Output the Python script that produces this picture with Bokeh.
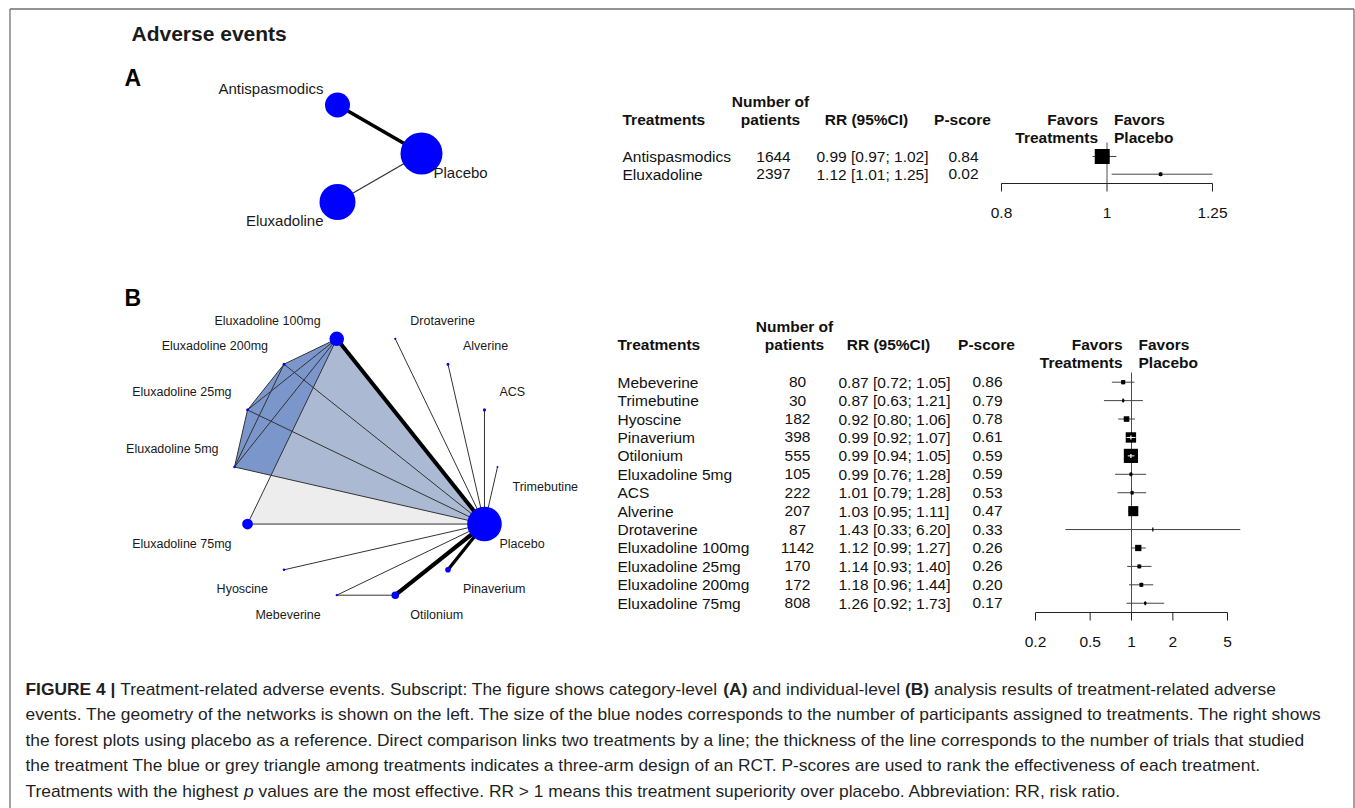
import math
from bokeh.plotting import figure
from bokeh.models import Range1d, LogScale
from bokeh.core.properties import value
from bokeh.embed import file_html
from bokeh.resources import INLINE

# ---------------------------------------------------------------- DATA
title_text = "Adverse events"
panel_labels = ["A", "B"]

# Panel A : category level
treatments_A = ["Antispasmodics", "Eluxadoline"]
patients_A = [1644, 2397]
rr_A = [0.99, 1.12]
lower_A = [0.97, 1.01]
upper_A = [1.02, 1.25]
pscore_A = [0.84, 0.02]
ticks_A = [0.8, 1, 1.25]
tick_labels_A = ["0.8", "1", "1.25"]
network_nodes_A = ["Placebo", "Eluxadoline", "Antispasmodics"]
network_edges_A = [("Antispasmodics", "Placebo"), ("Eluxadoline", "Placebo")]

# Panel B : individual level
treatments_B = ["Mebeverine", "Trimebutine", "Hyoscine", "Pinaverium", "Otilonium",
                "Eluxadoline 5mg", "ACS", "Alverine", "Drotaverine", "Eluxadoline 100mg",
                "Eluxadoline 25mg", "Eluxadoline 200mg", "Eluxadoline 75mg"]
patients_B = [80, 30, 182, 398, 555, 105, 222, 207, 87, 1142, 170, 172, 808]
rr_B = [0.87, 0.87, 0.92, 0.99, 0.99, 0.99, 1.01, 1.03, 1.43, 1.12, 1.14, 1.18, 1.26]
lower_B = [0.72, 0.63, 0.80, 0.92, 0.94, 0.76, 0.79, 0.95, 0.33, 0.99, 0.93, 0.96, 0.92]
upper_B = [1.05, 1.21, 1.06, 1.07, 1.05, 1.28, 1.28, 1.11, 6.20, 1.27, 1.40, 1.44, 1.73]
pscore_B = [0.86, 0.79, 0.78, 0.61, 0.59, 0.59, 0.53, 0.47, 0.33, 0.26, 0.26, 0.20, 0.17]
ticks_B = [0.2, 0.5, 1, 2, 5]
tick_labels_B = ["0.2", "0.5", "1", "2", "5"]
network_nodes_B = ["Eluxadoline 5mg", "Eluxadoline 25mg", "Eluxadoline 200mg", "Eluxadoline 100mg",
                   "Drotaverine", "Alverine", "ACS", "Trimebutine", "Placebo", "Pinaverium",
                   "Otilonium", "Mebeverine", "Hyoscine", "Eluxadoline 75mg"]
network_edges_B = [
    ("Eluxadoline 5mg", "Eluxadoline 25mg"), ("Eluxadoline 5mg", "Eluxadoline 200mg"),
    ("Eluxadoline 5mg", "Eluxadoline 100mg"), ("Eluxadoline 5mg", "Placebo"),
    ("Eluxadoline 25mg", "Eluxadoline 200mg"), ("Eluxadoline 25mg", "Eluxadoline 100mg"),
    ("Eluxadoline 25mg", "Placebo"), ("Eluxadoline 200mg", "Eluxadoline 100mg"),
    ("Eluxadoline 200mg", "Placebo"), ("Eluxadoline 100mg", "Placebo"),
    ("Eluxadoline 75mg", "Eluxadoline 100mg"), ("Eluxadoline 75mg", "Placebo"),
    ("Drotaverine", "Placebo"), ("Alverine", "Placebo"), ("ACS", "Placebo"),
    ("Trimebutine", "Placebo"), ("Pinaverium", "Placebo"), ("Otilonium", "Placebo"),
    ("Mebeverine", "Otilonium"), ("Mebeverine", "Placebo"), ("Hyoscine", "Placebo"),
]
multiarm_blue_B = ["Eluxadoline 5mg", "Eluxadoline 25mg", "Eluxadoline 200mg",
                   "Eluxadoline 100mg", "Placebo"]
multiarm_grey_B = ["Eluxadoline 75mg", "Eluxadoline 100mg", "Placebo"]

caption_lines = [
    [("FIGURE 4 |", "bold"),
     (" Treatment-related adverse events. Subscript: The figure shows category-level ", "normal"),
     ("(A)", "bold"), (" and individual-level ", "normal"), ("(B)", "bold"),
     (" analysis results of treatment-related adverse", "normal")],
    [("events. The geometry of the networks is shown on the left. The size of the blue nodes "
      "corresponds to the number of participants assigned to treatments. The right shows", "normal")],
    [("the forest plots using placebo as a reference. Direct comparison links two treatments by a "
      "line; the thickness of the line corresponds to the number of trials that studied", "normal")],
    [("the treatment The blue or grey triangle among treatments indicates a three-arm design of an "
      "RCT. P-scores are used to rank the effectiveness of each treatment.", "normal")],
    [("Treatments with the highest ", "normal"), ("p", "italic"),
     (" values are the most effective. RR > 1 means this treatment superiority over placebo. "
      "Abbreviation: RR, risk ratio.", "normal")],
]

# ---------------------------------------------------------------- STYLE
FONT = "Liberation Sans"
TXT = "#111111"
NODE_R_A = [21, 18, 12.5]
EDGE_W_A = [3.6, 1.3]
NODE_R_B = [1.3, 1.4, 1.5, 7.3, 1.1, 1.5, 1.6, 0.9, 17.3, 2.8, 3.8, 1.1, 1.3, 5.4]
EDGE_W_B = [1, 1, 1, 1, 1, 1, 1, 1, 1, 4, 1, 1, 1, 1, 1, 1, 3.3, 4.2, 1, 1, 1]

W, H = 1355, 808
X0, Y0 = 0, 0
BORDER_L, BORDER_T, BORDER_R = 9.5, 8.5, 1353.5

p = figure(width=W, height=H, x_range=Range1d(X0, X0 + W), y_range=Range1d(Y0 + H, Y0),
           output_backend="svg", toolbar_location=None, x_axis_location=None,
           y_axis_location=None, min_border=0, outline_line_color=None,
           background_fill_color="white", border_fill_color="white")
p.grid.visible = False


def draw_text(xs, ys, texts, size, align="left", style="normal", color=TXT,
              rng="default", font=FONT, baseline="middle"):
    p.text(x=list(xs), y=list(ys), text=list(texts), text_font=value(font),
           text_font_size=f"{size}px", text_font_style=style, text_align=align,
           text_baseline=baseline, text_color=color, x_range_name=rng)


# frame border (left, top, right)
p.segment(x0=[BORDER_L, BORDER_L, BORDER_R], y0=[Y0 + H, BORDER_T, BORDER_T],
          x1=[BORDER_L, BORDER_R, BORDER_R], y1=[BORDER_T, BORDER_T, Y0 + H],
          line_color="#707070", line_width=1.3)

# titles
draw_text([131], [33], [title_text], 21, style="bold", color="#1a1a1a")
draw_text([124, 124], [77, 297], panel_labels, 23, style="bold", color="#000000",
          font="Liberation Sans")


# ---------------------------------------------------------------- networks
def circle_layout(n, cx, cy, r, start_deg):
    angs = [math.radians(start_deg + 360.0 * k / n) for k in range(n)]
    return ([cx + r * math.cos(a) for a in angs], [cy + r * math.sin(a) for a in angs], angs)


def network(nodes, edges, edge_w, node_r, cx, cy, r, start, font_size, dxr, dxl, dyu, dyd,
            polys=()):
    xs, ys, angs = circle_layout(len(nodes), cx, cy, r, start)
    pos = {nm: (x, y) for nm, x, y in zip(nodes, xs, ys)}
    for members, color, alpha in polys:
        p.patch([pos[m][0] for m in members], [pos[m][1] for m in members],
                fill_color=color, fill_alpha=alpha, line_color=None)
    p.segment(x0=[pos[a][0] for a, b in edges], y0=[pos[a][1] for a, b in edges],
              x1=[pos[b][0] for a, b in edges], y1=[pos[b][1] for a, b in edges],
              line_width=edge_w, line_color=["#000000" if w > 2 else "#333333" for w in edge_w])
    p.scatter(x=xs, y=ys, size=[2 * rr for rr in node_r], marker="circle",
              fill_color="#0000ff", line_color=None)
    for nm, x, y, a in zip(nodes, xs, ys, angs):
        c, s = math.cos(a), math.sin(a)
        right = c > 1e-6
        above = s < -1e-6 or (abs(s) <= 1e-6 and c < 0)
        lx = x + dxr if right else x - dxl
        ly = y - dyu if above else y + dyd
        draw_text([lx], [ly], [nm], font_size, align="left" if right else "right",
                  color="#1a1a1a")


network(network_nodes_A, network_edges_A, EDGE_W_A, NODE_R_A, 365, 153, 56, 0, 15,
        12, 14, 17, 19)
network(network_nodes_B, network_edges_B, EDGE_W_B, NODE_R_B, 365.5, 466.5, 131.5, 180, 12.5,
        15, 16, 18, 19.5,
        polys=[(multiarm_blue_B, "#7a96cb", 1.0), (multiarm_grey_B, "#dcdcdc", 0.5)])


# ---------------------------------------------------------------- forest plots
def log_axis_range(v0, px0, v1, px1):
    ppu = (px1 - px0) / (math.log(v1) - math.log(v0))
    start = math.exp(math.log(v0) + (X0 - px0) / ppu)
    end = math.exp(math.log(v0) + (X0 + W - px0) / ppu)
    return Range1d(start, end), ppu, px0 - ppu * math.log(v0)


rngA, ppuA, px1A = log_axis_range(ticks_A[0], 1001, ticks_A[-1], 1212)
rngB, ppuB, px1B = log_axis_range(ticks_B[0], 1035, ticks_B[-1], 1227)
p.extra_x_ranges = {"fa": rngA, "fb": rngB}
p.extra_x_scales = {"fa": LogScale(), "fb": LogScale()}


def forest(name, est, lo, hi, ys, ppu, box_k, ref_top, axis_y, ticks, labels):
    n = len(est)
    se = [(math.log(h) - math.log(l)) / (2 * 1.959964) for l, h in zip(lo, hi)]
    box = [box_k / s for s in se]
    ci_px = [(math.log(h) - math.log(l)) * ppu for l, h in zip(lo, hi)]
    inside = [c < 0.9 * b for c, b in zip(ci_px, box)]
    p.segment(x0=[1], y0=[ref_top], x1=[1], y1=[axis_y], x_range_name=name,
              line_color="#4d4d4d", line_width=1)
    p.segment(x0=lo, y0=ys, x1=hi, y1=ys, x_range_name=name, line_color="#444444",
              line_width=1)
    p.scatter(x=est, y=ys, size=box, marker="square", x_range_name=name,
              fill_color="#000000", line_color=None)
    p.segment(x0=est, y0=[y - 2 for y in ys], x1=est, y1=[y + 2 for y in ys],
              x_range_name=name, line_width=1.2,
              line_color=["#ffffff" if i else "#000000" for i in inside])
    idx = [i for i in range(n) if inside[i]]
    if idx:
        p.segment(x0=[lo[i] for i in idx], y0=[ys[i] for i in idx],
                  x1=[hi[i] for i in idx], y1=[ys[i] for i in idx],
                  x_range_name=name, line_color="#ffffff", line_width=1)
    p.segment(x0=[ticks[0]], y0=[axis_y], x1=[ticks[-1]], y1=[axis_y], x_range_name=name,
              line_color="#222222", line_width=1)
    p.segment(x0=ticks, y0=[axis_y] * len(ticks), x1=ticks, y1=[axis_y + 8] * len(ticks),
              x_range_name=name, line_color="#222222", line_width=1)
    draw_text(ticks, [axis_y + 29] * len(ticks), labels, 15.5, align="center", rng=name)


def table(names, npat, est, lo, hi, ps, y_head, y0, dy, x_name, x_n, x_rr, x_p, ref_px):
    ys = [y0 + i * dy for i in range(len(names))]
    fs = 15.5
    # headers
    draw_text([x_name], [y_head], ["Treatments"], fs, style="bold")
    draw_text([x_n - 3, x_n - 3], [y_head - 18, y_head], ["Number of", "patients"], fs,
              align="center", style="bold")
    draw_text([x_rr + 50], [y_head], ["RR (95%CI)"], fs, align="center", style="bold")
    draw_text([x_p - 1], [y_head], ["P-score"], fs, align="center", style="bold")
    draw_text([ref_px - 9, ref_px - 9], [y_head, y_head + 18], ["Favors", "Treatments"], fs,
              align="right", style="bold")
    draw_text([ref_px + 7, ref_px + 7], [y_head, y_head + 18], ["Favors", "Placebo"], fs,
              align="left", style="bold")
    # rows
    draw_text([x_name] * len(ys), ys, names, fs)
    draw_text([x_n] * len(ys), ys, [str(v) for v in npat], fs, align="center")
    draw_text([x_rr] * len(ys), ys,
              [f"{e:.2f} [{l:.2f}; {h:.2f}]" for e, l, h in zip(est, lo, hi)], fs)
    draw_text([x_p] * len(ys), ys, [f"{v:.2f}" for v in ps], fs, align="center")
    return ys


ysA = table(treatments_A, patients_A, rr_A, lower_A, upper_A, pscore_A, 119, 156, 17.7,
            622, 773, 816, 963, px1A)
forest("fa", rr_A, lower_A, upper_A, ysA, ppuA, 0.192, 142, 183, ticks_A, tick_labels_A)

ysB = table(treatments_B, patients_B, rr_B, lower_B, upper_B, pscore_B, 344, 381.7, 18.42,
            617, 797, 838, 987, px1B)
forest("fb", rr_B, lower_B, upper_B, ysB, ppuB, 0.4, 372, 612, ticks_B, tick_labels_B)

# ---------------------------------------------------------------- caption
_REG = {" ": 278, "!": 278, '"': 355, "#": 556, "$": 556, "%": 889, "&": 667, "'": 191,
        "(": 333, ")": 333, "*": 389, "+": 584, ",": 278, "-": 333, ".": 278, "/": 278,
        ":": 278, ";": 278, "<": 584, "=": 584, ">": 584, "?": 556, "@": 1015,
        "[": 278, "\\": 278, "]": 278, "^": 469, "_": 556, "`": 333, "{": 334, "|": 260,
        "}": 334, "~": 584}
_REG.update({d: 556 for d in "0123456789"})
_REG.update(dict(zip("ABCDEFGHIJKLMNOPQRSTUVWXYZ",
                     [667, 667, 722, 722, 667, 611, 778, 722, 278, 500, 667, 556, 833, 722,
                      778, 667, 778, 722, 667, 611, 722, 667, 944, 667, 667, 611])))
_REG.update(dict(zip("abcdefghijklmnopqrstuvwxyz",
                     [556, 556, 500, 556, 556, 278, 556, 556, 222, 222, 500, 222, 833, 556,
                      556, 556, 556, 333, 500, 278, 556, 500, 722, 500, 500, 500])))
_BOLD = dict(_REG)
_BOLD.update({"|": 280, "A": 722, "B": 722, "R": 722, "U": 722})


def em_width(s, style):
    tab = _BOLD if style == "bold" else _REG
    return sum(tab.get(ch, 556) for ch in s) / 1000.0


CAP_LEFT, CAP_RIGHT = 25, 1322
cap_fs = (CAP_RIGHT - CAP_LEFT) / sum(em_width(t, s) for t, s in caption_lines[1])
cap_fs = round(cap_fs, 2)
cap_y0, cap_dy = 688, 25.5
for li, runs in enumerate(caption_lines):
    x = CAP_LEFT
    y = cap_y0 + li * cap_dy
    for t, s in runs:
        lead = len(t) - len(t.lstrip(" "))
        draw_text([x + em_width(t[:lead], s) * cap_fs], [y], [t.strip(" ")], cap_fs,
                  style=s, color="#1f1f1f")
        x += em_width(t, s) * cap_fs

open("out.html", "w").write(file_html(p, INLINE))
